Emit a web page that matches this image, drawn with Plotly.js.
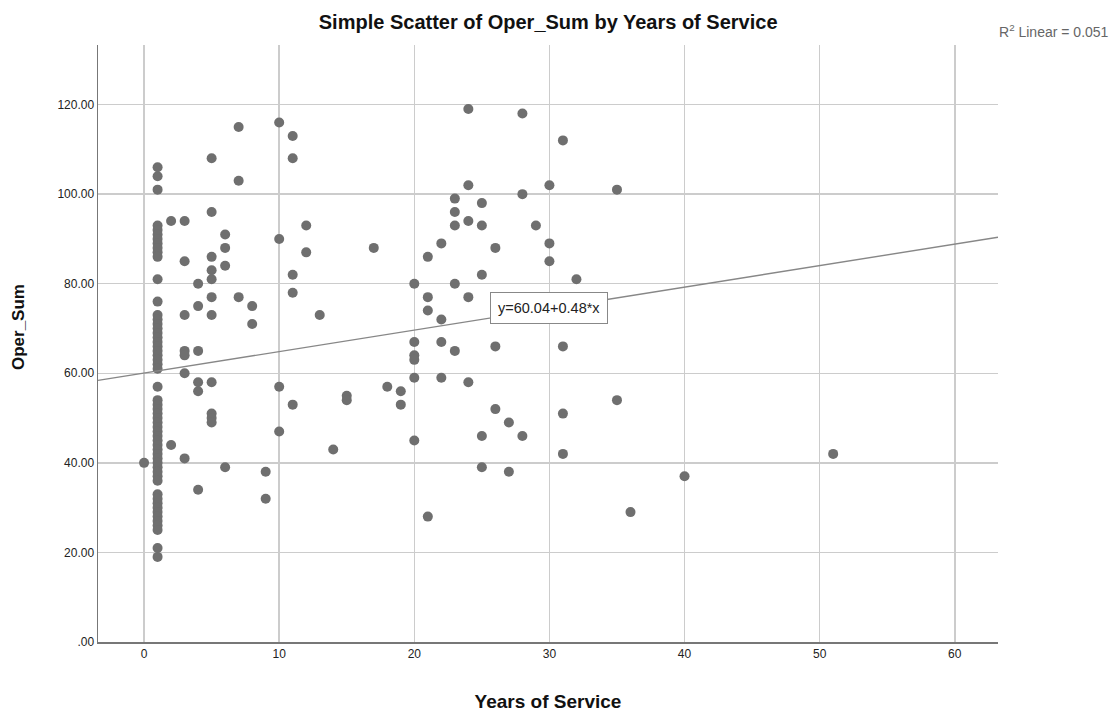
<!DOCTYPE html>
<html>
<head>
<meta charset="utf-8">
<script src="https://cdn.plot.ly/plotly-3.0.1.min.js"></script>
<style>html,body{margin:0;padding:0;background:#fff;}#chart{width:1113px;height:712px;}</style>
</head>
<body>
<div id="chart"></div>
<script>
// Years of Service (x) and Oper_Sum (y)
const yearsOfService = [
  0,
  1,1,1,1,1,1,1,1,1,1,1,1,1,1,1,1,1,1,1,1,1,1,1,1,1,1,1,1,1,1,1,1,1,1,1,1,1,1,1,1,1,1,1,1,1,1,1,1,1,1,1,1,1,1,1,1,1,
  2,2,
  3,3,3,3,3,3,3,
  4,4,4,4,4,4,
  5,5,5,5,5,5,5,5,5,5,5,
  6,6,6,6,
  7,7,7,
  8,8,
  9,9,
  10,10,10,10,
  11,11,11,11,11,
  12,12,
  13,14,15,15,17,18,19,19,
  20,20,20,20,20,20,
  21,21,21,21,
  22,22,22,22,
  23,23,23,23,23,
  24,24,24,24,24,
  25,25,25,25,25,
  26,26,26,
  27,27,
  28,28,28,
  29,
  30,30,30,
  31,31,31,31,
  32,
  35,35,
  36,40,51
];
const operSum = [
  40,
  106,104,101,93,92,91,90,89,88,87,86,81,76,73,72,71,70,69,68,67,66,65,64,63,62,61,57,54,53,52,51,50,49,48,47,46,45,44,43,42,41,40,39,38,37,36,33,32,31,30,29,28,27,26,25,21,19,
  94,44,
  94,85,73,65,64,60,41,
  80,75,65,58,56,34,
  108,96,86,83,81,77,73,58,51,50,49,
  91,88,84,39,
  115,103,77,
  75,71,
  38,32,
  116,90,57,47,
  113,108,82,78,53,
  93,87,
  73,43,55,54,88,57,56,53,
  80,67,64,63,59,45,
  86,77,74,28,
  89,72,67,59,
  99,96,93,80,65,
  119,102,94,77,58,
  98,93,82,46,39,
  88,66,52,
  49,38,
  118,100,46,
  93,
  102,89,85,
  112,66,51,42,
  81,
  101,54,
  29,37,42
];

// Fit line as given on the chart: y = 60.04 + 0.48*x
const fitIntercept = 60.04;
const fitSlope = 0.48;
const fitLabel = 'y=60.04+0.48*x';
const rSquaredLabel = 'R<sup>2</sup> Linear = 0.051';

const xTicks = [0, 10, 20, 30, 40, 50, 60];
const yTicks = [0, 20, 40, 60, 80, 100, 120];
const yTickText = ['.00', '20.00', '40.00', '60.00', '80.00', '100.00', '120.00'];

const xRange = [-3.41, 63.2];
const yRange = [0, 133.3];
const fitX = xRange.slice();
const fitY = fitX.map(v => fitIntercept + fitSlope * v);

const font = 'Liberation Sans, Arial, sans-serif';

const traces = [
  {
    x: yearsOfService, y: operSum, type: 'scatter', mode: 'markers',
    marker: {color: '#6f6f6f', size: 10},
    hoverinfo: 'x+y', showlegend: false
  },
  {
    x: fitX, y: fitY, type: 'scatter', mode: 'lines',
    line: {color: '#878787', width: 1.4},
    hoverinfo: 'skip', showlegend: false
  }
];

const layout = {
  width: 1113, height: 712,
  paper_bgcolor: '#ffffff', plot_bgcolor: '#ffffff',
  margin: {l: 98, r: 115, t: 45, b: 70},
  font: {family: font, color: '#1a1a1a'},
  title: {
    text: 'Simple Scatter of Oper_Sum by Years of Service',
    font: {family: font, size: 20, color: '#111', weight: 'bold'},
    x: 0.4925, xanchor: 'center', y: 0.969, yanchor: 'middle'
  },
  xaxis: {
    range: xRange, tickvals: xTicks, ticktext: xTicks.map(String),
    showgrid: true, gridcolor: '#cccccc', gridwidth: 1.5,
    zeroline: false, showline: true, linecolor: '#777', linewidth: 1.5,
    ticks: '', tickfont: {size: 12, color: '#222'},
    title: {text: 'Years of Service', font: {size: 19, color: '#111', weight: 'bold'}, standoff: 37}
  },
  yaxis: {
    range: yRange, tickvals: yTicks, ticktext: yTickText,
    showgrid: true, gridcolor: '#cccccc', gridwidth: 1.5,
    zeroline: false, showline: true, linecolor: '#777', linewidth: 1.5,
    ticks: '', tickfont: {size: 12, color: '#222'},
    title: {text: ''}
  },
  annotations: [
    {
      x: -0.0889, y: 0.5276, xref: 'paper', yref: 'paper',
      text: '<b>Oper_Sum</b>', showarrow: false, textangle: -90,
      xanchor: 'center', yanchor: 'middle',
      font: {family: font, size: 17, color: '#111'}
    },
    {
      x: 25.6, y: 74.55, xref: 'x', yref: 'y',
      text: fitLabel, showarrow: false, xanchor: 'left', yanchor: 'middle',
      font: {family: font, size: 14.5, color: '#222'},
      bgcolor: '#ffffff', bordercolor: '#888', borderwidth: 1, borderpad: 7
    },
    {
      x: 1, y: 1.024, xref: 'paper', yref: 'paper',
      text: rSquaredLabel, showarrow: false, xanchor: 'left', yanchor: 'middle', xshift: -1,
      font: {family: font, size: 14, color: '#666'}
    }
  ]
};

Plotly.newPlot('chart', traces, layout, {displayModeBar: false, staticPlot: true});
</script>
</body>
</html>
